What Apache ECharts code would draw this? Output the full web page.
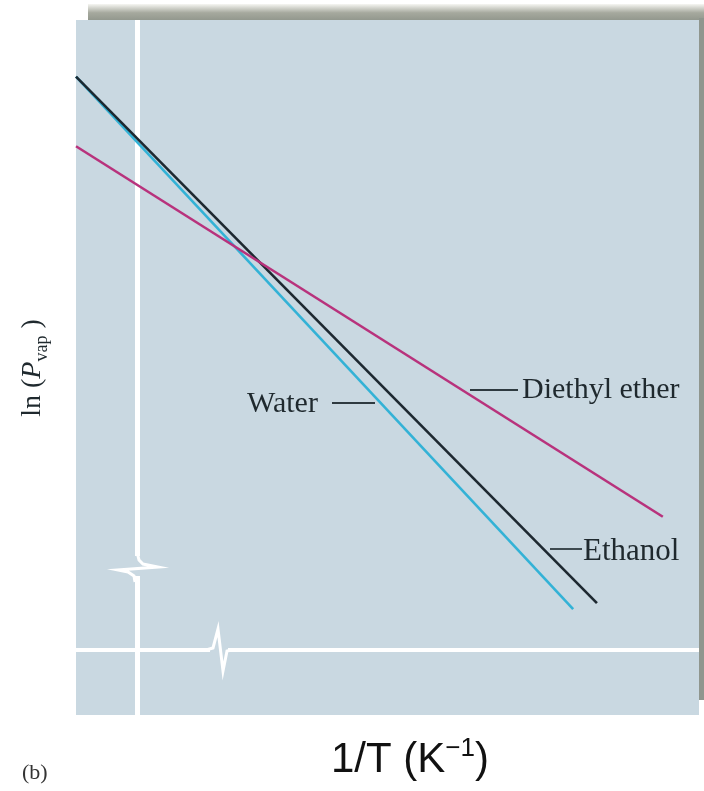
<!DOCTYPE html>
<html>
<head>
<meta charset="utf-8">
<script src="https://cdn.jsdelivr.net/npm/echarts@6/dist/echarts.min.js"></script>
<style>
html,body{margin:0;padding:0;background:#ffffff;}
#chart{width:704px;height:791px;}
</style>
</head>
<body>
<div id="chart"></div>
<script>
// Data (arbitrary units: x = 1/T, y = ln(Pvap); origin at the white axes)
const seriesNames = ['Water', 'Ethanol', 'Diethyl ether'];
const water   = [[-1.0, 8.82], [7.15, 0.63]];
const ethanol = [[-1.0, 8.82], [7.54, 0.72]];
const ether   = [[-1.0, 7.75], [8.62, 2.05]];
const xRange = [-1, 9.213];
const yRange = [-1, 9.692];

const panel = '#c9d8e1';
const txt = '#1f292e';

const chart = echarts.init(document.getElementById('chart'), null, {renderer: 'canvas'});

function lineSeries(name, data, color) {
  return {
    name: name, type: 'line', data: data, symbol: 'none', silent: true,
    lineStyle: {color: color, width: 2.6}, z: 3
  };
}

chart.setOption({
  animation: false,
  backgroundColor: '#ffffff',
  grid: {left: 76, top: 20, right: 5, bottom: 76, show: true, backgroundColor: panel, borderWidth: 0},
  xAxis: {
    type: 'value', min: xRange[0], max: xRange[1],
    axisLine: {show: true, onZero: true, lineStyle: {color: '#ffffff', width: 4, cap: 'butt'}},
    axisTick: {show: false}, axisLabel: {show: false}, splitLine: {show: false}
  },
  yAxis: {
    type: 'value', min: yRange[0], max: yRange[1],
    axisLine: {show: true, onZero: true, lineStyle: {color: '#ffffff', width: 5, cap: 'butt'}},
    axisTick: {show: false}, axisLabel: {show: false}, splitLine: {show: false}
  },
  series: [
    lineSeries(seriesNames[0], water, '#33b2d6'),
    lineSeries(seriesNames[1], ethanol, '#1d2830'),
    lineSeries(seriesNames[2], ether, '#b8327c')
  ],
  graphic: [
    // top shadow bar
    {type: 'rect', shape: {x: 88, y: 4, width: 616, height: 16}, z: -1,
     style: {fill: new echarts.graphic.LinearGradient(0, 0, 0, 1, [
       {offset: 0, color: '#f6f6f2'}, {offset: 0.55, color: '#a6a99e'}, {offset: 1, color: '#93988e'}])}},
    // right shadow strip
    {type: 'rect', shape: {x: 699, y: 18, width: 5, height: 682}, z: -1,
     style: {fill: '#8f968e'}},
    // vertical axis break
    {type: 'rect', shape: {x: 130, y: 556, width: 14, height: 20}, z: 5, style: {fill: panel}},
    {type: 'polyline', z: 6, shape: {points: [[137, 552], [139, 560], [143, 564], [158, 567], [118, 570], [128, 572], [134, 576], [135, 582]]},
     style: {stroke: '#ffffff', lineWidth: 3, fill: null}},
    // horizontal axis break
    {type: 'rect', shape: {x: 210, y: 643, width: 18, height: 12}, z: 5, style: {fill: panel}},
    {type: 'polyline', z: 6, shape: {points: [[206, 650], [213, 648], [218, 629], [223, 671], [227, 651], [232, 650]]},
     style: {stroke: '#ffffff', lineWidth: 3, fill: null}},
    // leader lines
    {type: 'line', z: 6, shape: {x1: 332, y1: 403, x2: 375, y2: 403}, style: {stroke: '#2e3a40', lineWidth: 1.8}},
    {type: 'line', z: 6, shape: {x1: 470, y1: 390, x2: 518, y2: 390}, style: {stroke: '#2e3a40', lineWidth: 1.8}},
    {type: 'line', z: 6, shape: {x1: 550, y1: 549, x2: 582, y2: 549}, style: {stroke: '#2e3a40', lineWidth: 1.8}},
    // series labels
    {type: 'text', z: 7, x: 247, y: 404, style: {text: seriesNames[0], fill: txt, font: '30px "Liberation Serif", "DejaVu Serif", serif', align: 'left', verticalAlign: 'middle'}},
    {type: 'text', z: 7, x: 522, y: 390, style: {text: seriesNames[2], fill: txt, font: '30px "Liberation Serif", "DejaVu Serif", serif', align: 'left', verticalAlign: 'middle'}},
    {type: 'text', z: 7, x: 583, y: 552, style: {text: seriesNames[1], fill: txt, font: '31px "Liberation Serif", "DejaVu Serif", serif', align: 'left', verticalAlign: 'middle'}},
    // y axis title
    {type: 'text', z: 7, x: 33, y: 368, rotation: Math.PI / 2,
     style: {text: '{n|ln (}{i|P}{s|vap}{n| )}', align: 'center', verticalAlign: 'middle', fill: txt,
       rich: {
         n: {fontFamily: '"Liberation Serif", serif', fontSize: 28, lineHeight: 36, verticalAlign: 'middle', fill: txt},
         i: {fontFamily: '"Liberation Serif", serif', fontStyle: 'italic', fontSize: 28, lineHeight: 36, verticalAlign: 'middle', fill: txt},
         s: {fontFamily: '"Liberation Serif", serif', fontSize: 18, lineHeight: 18, verticalAlign: 'bottom', fill: txt}
       }}},
    // x axis title
    {type: 'text', z: 7, x: 410, y: 760,
     style: {text: '{a|1/T (K}{b|\u22121}{a|)}', align: 'center', verticalAlign: 'middle', fill: '#111111',
       rich: {
         a: {fontFamily: '"Liberation Sans", Arial, sans-serif', fontSize: 42, lineHeight: 48, verticalAlign: 'middle', fill: '#111111'},
         b: {fontFamily: '"Liberation Sans", Arial, sans-serif', fontSize: 26, lineHeight: 26, verticalAlign: 'top', fill: '#111111'}
       }}},
    // panel tag
    {type: 'text', z: 7, x: 22, y: 773, style: {text: '(b)', fill: '#333333', font: '22px "Liberation Serif", serif', align: 'left', verticalAlign: 'middle'}}
  ]
});
</script>
</body>
</html>
